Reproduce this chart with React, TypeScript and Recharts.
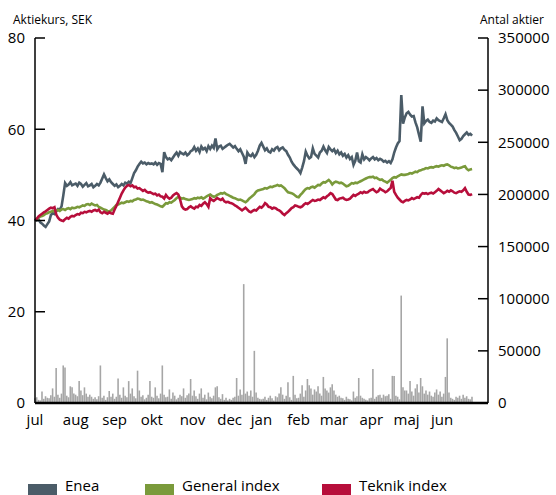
import React from 'react';
import { ComposedChart, Line, Bar, XAxis, YAxis } from 'recharts';

// trading days on the x axis, one row per month
const months = ['jul', 'aug', 'sep', 'okt', 'nov', 'dec', 'jan', 'feb', 'mar', 'apr', 'maj', 'jun'];
const monthDays = [23, 22, 21, 23, 21, 18, 21, 20, 21, 20, 20, 18];

// Enea share price, SEK
const enea = [
  40.3, 40.0, 40.2, 39.6, 39.3, 38.9, 38.6, 39.2, 39.8, 41.2, 41.6, 41.4, 42.0, 42.5, 42.4, 43.1, 45.5, 48.2, 47.6, 47.9, 48.4, 47.7, 47.9,
  48.1, 47.6, 48.3, 48.0, 47.4, 47.8, 48.2, 47.5, 47.7, 48.0, 47.3, 47.6, 48.0, 47.7, 48.3, 49.2, 50.1, 49.3, 48.6, 49.0, 48.4, 48.0,
  47.6, 47.9, 47.3, 47.6, 48.0, 47.7, 48.3, 48.1, 48.5, 48.2, 49.3, 50.4, 51.0, 51.8, 52.4, 52.9, 52.5, 52.7, 52.3, 52.6, 52.4,
  52.5, 52.3, 52.7, 52.2, 52.6, 52.4, 50.6, 55.0, 53.9, 53.4, 53.6, 53.2, 53.8, 54.4, 54.9, 54.2, 55.0, 54.7, 54.5, 54.9, 54.3, 54.6, 55.2,
  55.4, 56.1, 55.3, 55.8, 55.0, 56.2, 55.6, 55.9, 55.2, 56.3, 55.7, 56.4, 55.9, 58.0, 55.6, 56.2, 56.4, 55.7, 56.0, 56.3, 56.6,
  56.8, 56.4, 56.0, 56.3, 55.7, 55.2, 55.6, 54.8, 54.0, 52.4, 54.9, 54.3, 54.1, 54.6, 53.9, 54.4, 55.3, 56.4,
  57.0, 56.2, 55.4, 55.8, 55.1, 54.9, 55.6, 55.3, 55.9, 56.1, 55.4, 55.8, 56.0, 55.5, 55.2, 54.4, 53.8, 52.9, 52.3, 51.8, 51.4,
  51.0, 50.4, 51.6, 53.0, 55.1, 54.2, 53.6, 53.9, 55.8, 54.6, 54.2, 53.8, 54.9, 55.3, 56.2, 55.4, 54.8, 56.1, 55.6, 55.2,
  55.6, 54.8, 55.3, 54.5, 54.9, 54.2, 54.6, 53.8, 54.3, 53.5, 53.9, 52.2, 53.1, 54.9, 53.0, 52.7, 54.5, 53.4, 53.9, 53.6, 53.2,
  53.6, 53.9, 53.4, 53.7, 53.2, 53.5, 53.3, 52.9, 53.1, 52.7, 53.0, 52.6, 53.4, 54.9, 56.0, 56.9, 57.4, 67.5, 61.2, 62.6,
  63.5, 63.8, 63.2, 62.8, 62.9, 61.5, 60.4, 58.8, 57.3, 65.0, 61.3, 61.8, 62.1, 61.6, 61.4, 61.9, 61.7, 62.4, 62.0, 61.8,
  61.6, 62.4, 63.3, 62.0, 61.4, 61.0, 60.6, 59.8, 59.2, 58.4, 57.6, 57.9, 58.5, 58.9, 59.3, 58.8, 59.0, 58.6,
];

// General index, rebased to Enea's start
const generalIndex = [
  40.0, 40.3, 40.6, 40.9, 41.0, 41.2, 41.5, 41.6, 41.8, 41.9, 42.1, 42.0, 42.2, 42.3, 42.1, 42.4, 42.5, 42.3, 42.6, 42.7, 42.5, 42.8, 42.7,
  42.8, 43.0, 42.9, 43.1, 43.3, 43.2, 43.5, 43.6, 43.4, 43.7, 43.5, 43.3, 43.4, 43.0, 42.8, 42.6, 42.4, 42.3, 42.1, 42.0, 42.2, 42.6,
  43.0, 43.4, 43.5, 43.7, 43.9, 43.8, 44.0, 44.2, 44.1, 44.3, 44.2, 44.5, 44.6, 44.8, 44.7, 44.5, 44.6, 44.4, 44.2, 44.1, 43.9,
  44.0, 43.8, 43.6, 43.5, 43.3, 43.1, 43.0, 43.4, 43.8, 43.7, 44.0, 43.9, 44.2, 44.5, 44.9, 45.2, 45.0, 44.8, 44.9, 44.7, 44.6, 44.5, 44.6,
  44.7, 44.9, 44.8, 45.0, 44.9, 45.1, 44.8, 45.0, 45.3, 45.5, 45.7, 45.4, 45.2, 45.3, 45.6, 45.8, 46.0, 45.9, 46.1, 45.8, 45.6,
  45.4, 45.2, 45.0, 44.9, 44.7, 44.5, 44.6, 44.4, 44.2, 44.0, 44.3, 44.8, 45.1, 45.4, 45.8, 46.3, 46.6, 46.7,
  46.8, 46.9, 47.1, 47.0, 47.2, 47.4, 47.3, 47.5, 47.6, 47.8, 47.6, 47.7, 47.4, 47.1, 46.6, 46.2, 46.1, 46.0, 45.8, 45.5, 45.2,
  45.1, 45.6, 46.0, 46.5, 46.9, 47.1, 47.0, 47.3, 47.4, 47.2, 47.5, 47.8, 47.7, 48.1, 48.4, 48.3, 48.6, 48.9, 48.5, 47.9,
  48.3, 48.5, 48.4, 48.2, 48.3, 48.1, 47.8, 47.5, 47.6, 47.9, 48.2, 48.1, 48.3, 48.2, 48.4, 48.6, 48.8, 49.0, 49.2, 49.4, 49.5,
  49.5, 49.6, 49.3, 49.4, 49.1, 48.9, 49.0, 48.7, 48.5, 48.3, 48.6, 48.9, 49.3, 49.5, 49.4, 49.7, 49.9, 50.1, 50.0, 50.0,
  50.1, 50.2, 50.4, 50.3, 50.5, 50.7, 50.6, 50.9, 51.0, 51.2, 51.3, 51.5, 51.4, 51.6, 51.7, 51.6, 51.8, 51.9, 51.8, 52.0,
  52.1, 52.0, 52.2, 52.3, 52.1, 51.8, 51.7, 51.5, 51.6, 51.4, 51.5, 51.6, 51.8, 51.9, 51.3, 51.0, 51.2, 51.3,
];

// Teknik index, rebased to Enea's start
const teknikIndex = [
  40.0, 40.4, 40.9, 41.2, 41.5, 41.8, 42.0, 42.3, 42.6, 42.8, 42.7, 42.9, 41.3, 40.6, 40.2, 40.0, 39.9, 40.3, 40.6, 40.4, 40.8, 41.0, 40.9,
  41.2, 41.4, 41.3, 41.7, 41.6, 41.9, 41.8, 42.0, 42.1, 41.9, 42.2, 42.3, 42.1, 42.4, 41.8, 41.6, 41.9, 41.7, 41.5, 41.8, 41.6, 41.5,
  42.4, 43.2, 44.1, 45.0, 45.9, 46.6, 47.2, 47.6, 47.8, 47.5, 47.7, 47.3, 47.4, 47.0, 47.1, 46.8, 46.5, 46.7, 46.3, 46.1, 46.2,
  46.0, 45.8, 45.9, 45.5, 45.7, 45.3, 45.2, 44.8, 45.6, 45.1, 44.8, 45.0, 45.5, 45.8, 46.0, 45.7, 44.6, 43.1, 42.6, 42.4, 42.5, 42.9, 43.1,
  42.8, 42.6, 43.0, 42.9, 43.4, 43.2, 43.7, 44.0, 43.6, 43.0, 44.9, 44.5, 44.3, 44.6, 44.9, 44.7, 44.5, 44.8, 44.2, 44.0, 44.1,
  43.9, 43.8, 43.6, 43.3, 43.1, 42.8, 42.5, 42.2, 42.5, 42.8, 42.4, 42.0, 41.8, 42.1, 42.3, 42.2, 42.6, 43.0,
  42.8, 43.2, 43.8, 43.5, 43.0, 42.9, 42.6, 42.8, 42.7, 42.4, 42.2, 41.9, 41.5, 41.2, 41.6, 41.9, 42.3, 42.7, 42.9, 43.3, 43.2,
  43.0, 42.9, 43.1, 43.5, 43.8, 43.6, 43.9, 44.2, 44.5, 44.3, 44.4, 44.6, 44.5, 44.8, 45.1, 44.9, 45.3, 45.6, 46.0, 45.8,
  45.2, 44.6, 44.5, 44.8, 44.9, 45.0, 44.7, 44.5, 44.6, 44.8, 45.2, 45.6, 45.4, 45.7, 45.9, 46.2, 46.0, 46.3, 46.1, 46.2, 46.5,
  46.7, 46.9, 46.5, 46.2, 46.4, 47.0, 46.7, 46.5, 46.2, 46.4, 46.8, 47.1, 48.7, 46.3, 45.6, 45.0, 44.6, 44.2, 44.0, 44.3,
  44.5, 44.4, 44.6, 44.9, 44.7, 44.9, 45.1, 45.0, 45.6, 46.0, 45.9, 46.0, 45.8, 46.0, 46.1, 45.9, 46.2, 46.5, 46.9, 46.6,
  46.3, 46.0, 46.2, 46.5, 46.3, 46.6, 46.4, 46.1, 46.0, 46.2, 46.4, 46.3, 46.6, 47.1, 46.3, 45.7, 45.6, 45.8,
];

// traded shares per day (right axis)
const volume = [
  4500, 5500, 3000, 2500, 11000, 4000, 6500, 5000, 4500, 7500, 14000, 6000, 33500, 8000, 5000, 9000, 36000, 34000, 7000, 5500, 16000, 15000, 9000,
  8000, 6500, 21000, 12000, 7500, 15000, 9000, 6000, 8000, 6000, 4000, 5500, 3500, 6500, 36000, 5000, 7000, 3000, 5500, 11500, 6000, 9000,
  4000, 6000, 23500, 8000, 5000, 15000, 7000, 5500, 21000, 9000, 14000, 6500, 4500, 31000, 12000, 6000, 7500, 3500, 5000, 8000, 21000,
  6000, 5000, 15000, 7000, 4500, 9000, 36000, 8000, 5500, 6000, 13000, 4000, 10000, 7000, 3500, 5000, 8000, 6500, 14000, 5000, 7500, 9000, 23000,
  7000, 12000, 6500, 4000, 9000, 14000, 5000, 8000, 3500, 10000, 6000, 4500, 7000, 15000, 16000, 5500, 4000, 8500, 3000, 5000, 2500,
  4000, 3000, 5000, 6000, 24000, 7000, 13000, 8000, 114000, 9000, 11000, 7000, 12000, 6000, 50000, 10000, 5000, 4000,
  3500, 4000, 6000, 3000, 5000, 7000, 4500, 2500, 6500, 5500, 9000, 15000, 8000, 4000, 7000, 20000, 5500, 3000, 26000, 8000, 4500,
  5000, 9000, 17000, 6000, 12000, 23000, 17000, 14000, 8000, 13000, 11000, 16000, 9000, 7000, 25000, 14000, 12000, 10000, 15000, 18000,
  12000, 8000, 6000, 7000, 5000, 4500, 3000, 6000, 4000, 3500, 2500, 11000, 5000, 6500, 24000, 7000, 5000, 4000, 3000, 2500, 4500,
  5000, 32500, 4000, 6000, 7500, 8000, 5000, 8000, 6500, 7000, 8500, 4000, 26000, 26000, 7000, 6000, 3500, 103000, 15000, 12000,
  12000, 9000, 21000, 11000, 7000, 14000, 18000, 10000, 24000, 16000, 9000, 12000, 8000, 11000, 7000, 6000, 10000, 13000, 8000, 11000,
  6000, 9000, 25000, 62000, 10000, 5000, 4000, 3000, 6000, 5000, 7000, 4000, 8000, 5000, 6500, 4000, 3500, 6000,
];

const leftTicks = [0, 20, 40, 60, 80];
const rightTicks = [0, 50000, 100000, 150000, 200000, 250000, 300000, 350000];

const monthStarts = monthDays.map((_, k) => monthDays.slice(0, k).reduce((a, b) => a + b, 0));

const data = enea.map((v, i) => ({
  i,
  enea: v,
  general: generalIndex[i],
  teknik: teknikIndex[i],
  volume: volume[i],
}));

const FONT = '"Open Sans", sans-serif';
const tickStyle = { fill: '#000', fontSize: 15, fontFamily: FONT };

const legendItems = [
  { name: 'Enea', color: '#4b5c68', swatch: 28, text: 65 },
  { name: 'General index', color: '#7a9a3b', swatch: 145, text: 182 },
  { name: 'Teknik index', color: '#b70e3b', swatch: 322, text: 359 },
];

export default function App() {
  return (
    <div style={{ position: 'absolute', left: 0, top: 0, width: 556, height: 495, background: '#fff', overflow: 'hidden', fontFamily: FONT }}>
      <div style={{ position: 'absolute', left: 13, top: 11, fontSize: 12, color: '#000' }}>Aktiekurs, SEK</div>
      <div style={{ position: 'absolute', left: 480, top: 11, fontSize: 12, color: '#000' }}>Antal aktier</div>
      <ComposedChart width={556} height={495} data={data} margin={{ top: 38, right: 0, bottom: 62, left: 0 }}>
        <XAxis
          dataKey="i"
          type="number"
          domain={[0, 256]}
          ticks={monthStarts}
          tickFormatter={(v: number) => months[monthStarts.indexOf(v)]}
          tickLine={false}
          tickSize={0}
          tickMargin={11}
          height={30}
          axisLine={{ stroke: '#000', strokeWidth: 2.5 }}
          tick={tickStyle}
          interval={0}
        />
        <YAxis
          yAxisId="left"
          domain={[0, 80]}
          ticks={leftTicks}
          width={35}
          tickSize={-10}
          tickMargin={20}
          tickLine={{ stroke: '#000', strokeWidth: 1.5 }}
          axisLine={{ stroke: '#000', strokeWidth: 1.5 }}
          tick={tickStyle}
          interval={0}
        />
        <YAxis
          yAxisId="right"
          orientation="right"
          domain={[0, 350000]}
          ticks={rightTicks}
          width={68}
          tickSize={-10}
          tickMargin={20}
          tickLine={{ stroke: '#000', strokeWidth: 1.5 }}
          axisLine={{ stroke: '#000', strokeWidth: 1.5 }}
          tick={tickStyle}
          interval={0}
        />
        <Bar yAxisId="right" dataKey="volume" fill="#a6a6a6" barSize={2} isAnimationActive={false} />
        <Line yAxisId="left" type="linear" dataKey="enea" stroke="#4b5c68" strokeWidth={2.6} dot={false} isAnimationActive={false} />
        <Line yAxisId="left" type="linear" dataKey="general" stroke="#7a9a3b" strokeWidth={2.6} dot={false} isAnimationActive={false} />
        <Line yAxisId="left" type="linear" dataKey="teknik" stroke="#b70e3b" strokeWidth={2.6} dot={false} isAnimationActive={false} />
      </ComposedChart>
      {legendItems.map((it) => (
        <React.Fragment key={it.name}>
          <div style={{ position: 'absolute', left: it.swatch, top: 484, width: 29, height: 11, background: it.color }} />
          <div style={{ position: 'absolute', left: it.text, top: 478, fontSize: 15, color: '#000', lineHeight: '15px' }}>{it.name}</div>
        </React.Fragment>
      ))}
    </div>
  );
}
